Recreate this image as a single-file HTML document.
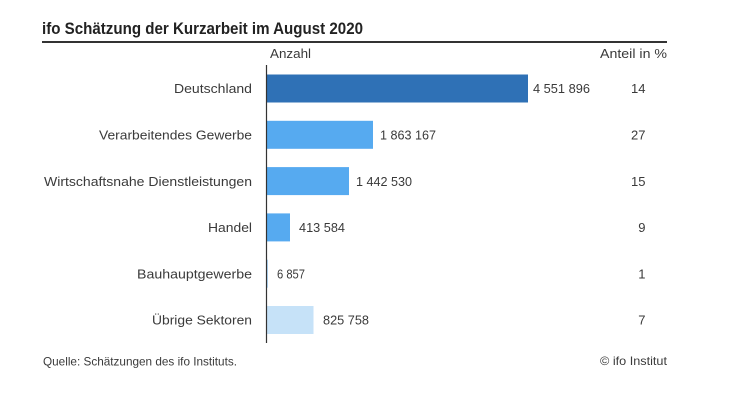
<!DOCTYPE html>
<html>
<head>
<meta charset="utf-8">
<style>
  html,body{margin:0;padding:0;background:#fff;}
  svg{display:block;}
  text{font-family:"Liberation Sans",sans-serif;fill:#3a3a3a;}
</style>
</head>
<body>
<svg width="740" height="417" viewBox="0 0 740 417" xmlns="http://www.w3.org/2000/svg">
  <rect width="740" height="417" fill="#fff"/>
  <!-- Title -->
  <text x="42" y="34" font-size="17" font-weight="bold" style="fill:#222" textLength="321" lengthAdjust="spacingAndGlyphs">ifo Schätzung der Kurzarbeit im August 2020</text>
  <rect x="42" y="41" width="625" height="2" fill="#333"/>

  <!-- headers -->
  <text x="270" y="58" font-size="13" textLength="41" lengthAdjust="spacingAndGlyphs">Anzahl</text>
  <text x="600" y="58" font-size="13" textLength="67" lengthAdjust="spacingAndGlyphs">Anteil in %</text>

  <!-- bars -->
  <rect x="267" y="74.5" width="261" height="28" fill="#2f71b6"/>
  <rect x="267" y="120.8" width="106" height="28" fill="#56aaf0"/>
  <rect x="267" y="167.1" width="82" height="28" fill="#56aaf0"/>
  <rect x="267" y="213.4" width="23" height="28" fill="#56aaf0"/>
  <rect x="267" y="259.7" width="0.5" height="28" fill="#56aaf0"/>
  <rect x="267" y="306" width="46.5" height="28" fill="#c6e2f8"/>

  <!-- axis -->
  <line x1="266.5" y1="65" x2="266.5" y2="343" stroke="#333" stroke-width="1.2"/>

  <!-- category labels -->
  <g font-size="13" text-anchor="end">
    <text x="252" y="93.2" textLength="78" lengthAdjust="spacingAndGlyphs">Deutschland</text>
    <text x="252" y="139.5" textLength="153" lengthAdjust="spacingAndGlyphs">Verarbeitendes Gewerbe</text>
    <text x="252" y="185.8" textLength="208" lengthAdjust="spacingAndGlyphs">Wirtschaftsnahe Dienstleistungen</text>
    <text x="252" y="232.1" textLength="44" lengthAdjust="spacingAndGlyphs">Handel</text>
    <text x="252" y="278.4" textLength="115" lengthAdjust="spacingAndGlyphs">Bauhauptgewerbe</text>
    <text x="252" y="324.7" textLength="100" lengthAdjust="spacingAndGlyphs">Übrige Sektoren</text>
  </g>

  <!-- value labels -->
  <g font-size="13">
    <text x="533" y="93.2" textLength="57" lengthAdjust="spacingAndGlyphs">4 551 896</text>
    <text x="380" y="139.5" textLength="56" lengthAdjust="spacingAndGlyphs">1 863 167</text>
    <text x="356" y="185.8" textLength="56" lengthAdjust="spacingAndGlyphs">1 442 530</text>
    <text x="299" y="232.1" textLength="46" lengthAdjust="spacingAndGlyphs">413 584</text>
    <text x="277" y="278.4" textLength="28" lengthAdjust="spacingAndGlyphs">6 857</text>
    <text x="323" y="324.7" textLength="46" lengthAdjust="spacingAndGlyphs">825 758</text>
  </g>

  <!-- percent labels -->
  <g font-size="13" text-anchor="end">
    <text x="645.5" y="93.2">14</text>
    <text x="645.5" y="139.5">27</text>
    <text x="645.5" y="185.8">15</text>
    <text x="645.5" y="232.1">9</text>
    <text x="645.5" y="278.4">1</text>
    <text x="645.5" y="324.7">7</text>
  </g>

  <!-- footer -->
  <text x="43" y="365.5" font-size="12" textLength="194" lengthAdjust="spacingAndGlyphs">Quelle: Schätzungen des ifo Instituts.</text>
  <text x="600" y="365" font-size="12" textLength="67" lengthAdjust="spacingAndGlyphs">© ifo Institut</text>
</svg>
</body>
</html>
